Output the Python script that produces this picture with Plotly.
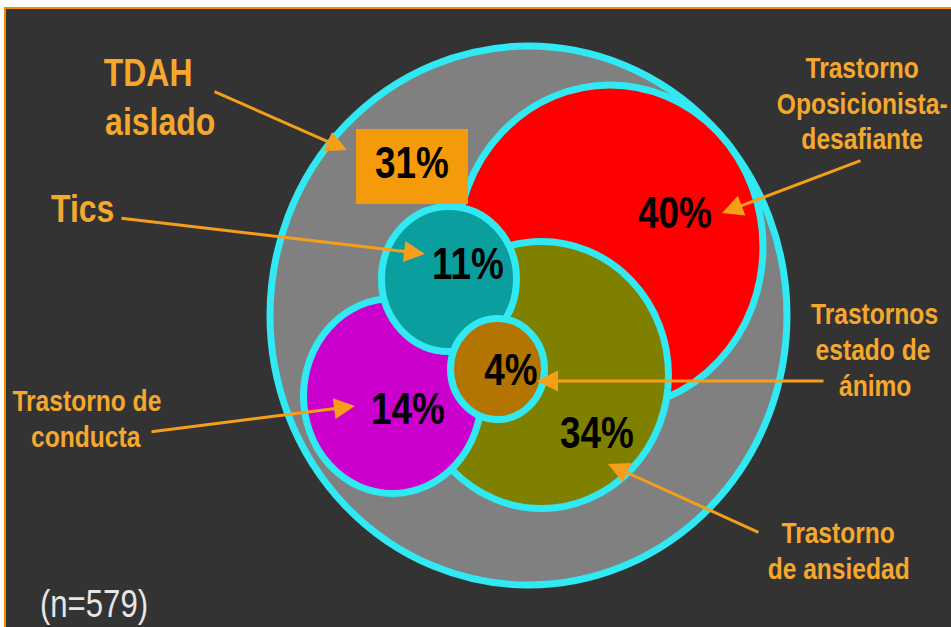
import plotly.graph_objects as go

# Comorbidity of ADHD (TDAH) in a sample of patients
group_names = ["TDAH aislado", "Trastorno Oposicionista-desafiante", "Tics",
               "Trastornos estado de ánimo", "Trastorno de conducta",
               "Trastorno de ansiedad"]
group_pct = [31, 40, 11, 4, 14, 34]
label_lines = [["TDAH", "aislado"],
               ["Trastorno", "Oposicionista-", "desafiante"],
               ["Tics"],
               ["Trastornos", "estado de", "ánimo"],
               ["Trastorno de", "conducta"],
               ["Trastorno", "de ansiedad"]]
sample_size = 579

W, H = 951, 627
BG = "#333333"
EDGE = "#31E9F2"
LABEL = "#F5A82E"
ARROW = "#F59E1A"
FONT = "Liberation Sans, Arial, sans-serif"

# Layout of the diagram in pixel space: ellipse centre, radii, fill
ellipses = {
    "TDAH aislado": (528.5, 315.5, 258.5, 269.5, "#808080"),
    "Trastorno Oposicionista-desafiante": (610, 247, 153, 162, "#FF0000"),
    "Trastorno de ansiedad": (541.5, 375, 127, 133.5, "#808000"),
    "Trastorno de conducta": (392.5, 396, 89, 97.5, "#CC00CC"),
    "Tics": (449, 279, 67.5, 72.5, "#0A9E9F"),
    "Trastornos estado de ánimo": (497.5, 369, 47, 50.5, "#B37400"),
}
draw_order = ["TDAH aislado", "Trastorno Oposicionista-desafiante",
              "Trastorno de ansiedad", "Trastorno de conducta", "Tics",
              "Trastornos estado de ánimo"]

# Where each percentage sits, and where each caption and its arrow go
pct_pos = {
    "TDAH aislado": (412, 167),
    "Trastorno Oposicionista-desafiante": (675, 217),
    "Tics": (468, 268),
    "Trastornos estado de ánimo": (511, 374),
    "Trastorno de conducta": (408, 413),
    "Trastorno de ansiedad": (597, 437),
}
caption_layout = {
    "TDAH aislado": dict(x=[148, 160], y=[72, 121], size=39),
    "Trastorno Oposicionista-desafiante": dict(x=[862, 862, 862], y=[67, 103, 138], size=30),
    "Tics": dict(x=[82], y=[208], size=39),
    "Trastornos estado de ánimo": dict(x=[874, 873, 875], y=[313, 349, 385], size=30),
    "Trastorno de conducta": dict(x=[87, 86], y=[400, 436], size=30),
    "Trastorno de ansiedad": dict(x=[838, 838], y=[532, 568], size=30),
}
arrows = {
    "TDAH aislado": ((213, 91), (347, 150)),
    "Trastorno Oposicionista-desafiante": ((862, 160), (722, 213)),
    "Tics": ((120, 218), (425, 254)),
    "Trastornos estado de ánimo": ((825, 381), (537, 381)),
    "Trastorno de conducta": ((150, 432), (355, 406)),
    "Trastorno de ansiedad": ((760, 533), (608, 464)),
}

shapes = [
    # dark panel with thin orange frame on top and left
    dict(type="rect", xref="x", yref="y", x0=5, y0=8, x1=W + 10, y1=H + 10,
         fillcolor=BG, line=dict(color="#F08C00", width=2), layer="below"),
]
for name in draw_order:
    cx, cy, rx, ry, fill = ellipses[name]
    shapes.append(dict(type="circle", xref="x", yref="y", layer="below",
                       x0=cx - rx, x1=cx + rx, y0=cy - ry, y1=cy + ry,
                       fillcolor=fill, line=dict(color=EDGE, width=7)))
# box behind the isolated-ADHD share
bx, by = pct_pos["TDAH aislado"]
shapes.append(dict(type="rect", xref="x", yref="y", layer="below",
                   x0=bx - 56, x1=bx + 56, y0=by - 38, y1=by + 37,
                   fillcolor="#F59A0A", line=dict(width=0)))

annotations = []
for name, lines in zip(group_names, label_lines):
    lay = caption_layout[name]
    for text, x, y in zip(lines, lay["x"], lay["y"]):
        annotations.append(dict(x=x, y=y, xref="x", yref="y", text=text,
                                showarrow=False, xanchor="center", yanchor="middle",
                                font=dict(family=FONT, size=lay["size"],
                                          color=LABEL, weight="bold")))
    (sx, sy), (ex, ey) = arrows[name]
    annotations.append(dict(x=ex, y=ey, ax=sx, ay=sy, xref="x", yref="y",
                            axref="x", ayref="y", text="", showarrow=True,
                            arrowhead=2, arrowsize=1.4, arrowwidth=3,
                            arrowcolor=ARROW, standoff=0))

annotations.append(dict(x=94, y=604, xref="x", yref="y", text=f"(n={sample_size})",
                        showarrow=False, xanchor="center", yanchor="middle",
                        font=dict(family=FONT, size=38, color="#E6E6E6")))

fig = go.Figure()
fig.add_trace(go.Scatter(
    x=[pct_pos[n][0] for n in group_names],
    y=[pct_pos[n][1] for n in group_names],
    text=[f"{p}%" for p in group_pct],
    mode="text", hoverinfo="skip", showlegend=False,
    textposition="middle center",
    textfont=dict(family=FONT, size=45, color="#000000", weight="bold"),
))

fig.update_layout(
    width=W, height=H, margin=dict(l=0, r=0, t=0, b=0),
    paper_bgcolor="#FFFFFF", plot_bgcolor="#FFFFFF",
    xaxis=dict(range=[0, W], visible=False, fixedrange=True),
    yaxis=dict(range=[H, 0], visible=False, fixedrange=True),
    shapes=shapes, annotations=annotations, showlegend=False,
)

# Narrow every text horizontally about its own centre (condensed lettering)
condense_js = """
var gd = document.getElementById('{plot_id}');
gd.querySelectorAll('text.annotation-text, .textpoint text').forEach(function (t) {
    t.style.transformBox = 'fill-box';
    t.style.transformOrigin = 'center';
    t.style.transform = 'scaleX(0.82)';
});
"""

fig.write_html("out.html", post_script=condense_js)
